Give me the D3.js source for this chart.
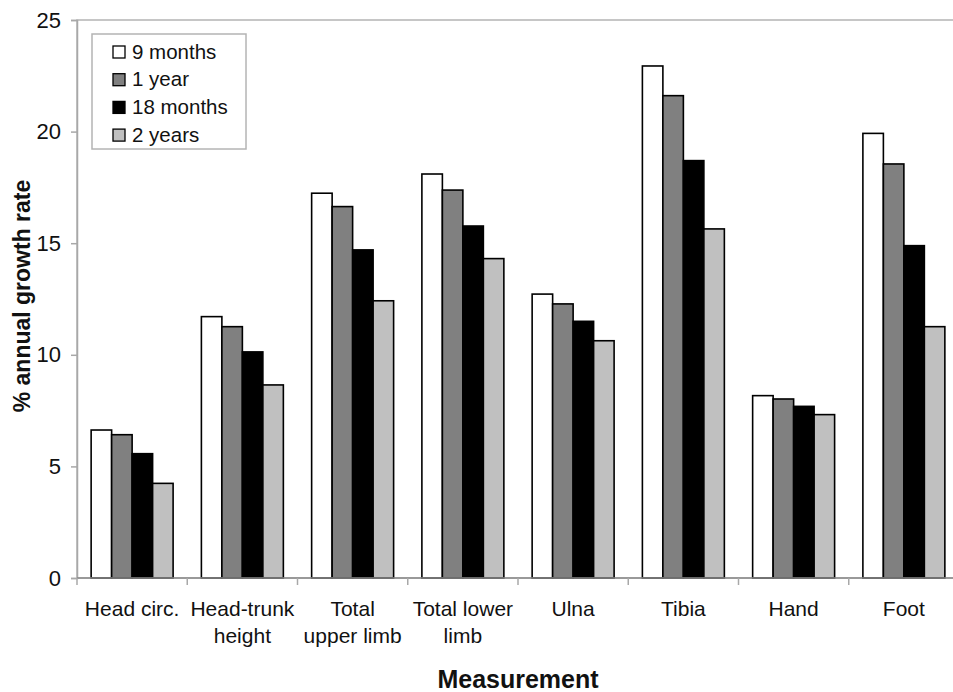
<!DOCTYPE html>
<html>
<head>
  <title>Annual growth rate by measurement</title>
  <script src="https://d3js.org/d3.v7.min.js"></script>
  <style>
    html, body { margin: 0; padding: 0; background: #fff; }
    svg { display: block; font-family: "Liberation Sans", Arial, sans-serif; }
  </style>
</head>
<body>
  <svg id="chart" width="953" height="692"></svg>

  <script>
    // Data
    const categories = ['Head circ.', 'Head-trunk height', 'Total upper limb', 'Total lower limb',
                        'Ulna', 'Tibia', 'Hand', 'Foot'];
    // category labels as they are wrapped in the picture
    const categoryLines = [['Head circ.'], ['Head-trunk', 'height'], ['Total', 'upper limb'],
                           ['Total lower', 'limb'], ['Ulna'], ['Tibia'], ['Hand'], ['Foot']];
    const seriesNames = ['9 months', '1 year', '18 months', '2 years'];
    const nineMonths  = [6.63, 11.71, 17.24, 18.10, 12.72, 22.94, 8.17, 19.92];
    const oneYear     = [6.42, 11.26, 16.64, 17.38, 12.28, 21.61, 8.02, 18.55];
    const eighteenMon = [5.57, 10.13, 14.70, 15.77, 11.50, 18.70, 7.69, 14.89];
    const twoYears    = [4.24,  8.65, 12.42, 14.31, 10.63, 15.64, 7.32, 11.26];
    const yTicks = [0, 5, 10, 15, 20, 25];

    const seriesValues = [nineMonths, oneYear, eighteenMon, twoYears];
    const colors = ['#ffffff', '#808080', '#000000', '#c0c0c0'];

    // plot area (right edge runs off the picture as in the original)
    const plotL = 77, plotR = 959, plotT = 20, plotB = 578;

    const svg = d3.select('#chart');

    const x0 = d3.scaleBand().domain(categories).range([plotL, plotR]);
    const x1 = d3.scaleBand().domain(seriesNames).range([0, x0.bandwidth()]).paddingOuter(0.69);
    const y = d3.scaleLinear().domain([0, 25]).range([plotB, plotT]);

    // plot frame
    svg.append('rect')
      .attr('x', plotL).attr('y', plotT)
      .attr('width', plotR - plotL).attr('height', plotB - plotT)
      .attr('fill', 'none').attr('stroke', '#b4b4b4').attr('stroke-width', 1.5);

    // y axis
    const yAxis = svg.append('g')
      .attr('transform', `translate(${plotL},0)`)
      .call(d3.axisLeft(y).tickValues(yTicks).tickSize(6).tickPadding(10));
    yAxis.select('.domain').attr('stroke', '#a8a8a8').attr('stroke-width', 1.5);
    yAxis.selectAll('.tick line').attr('stroke', '#a8a8a8').attr('stroke-width', 1.5);
    yAxis.selectAll('.tick text')
      .attr('font-size', 22).attr('fill', '#111')
      .style('font-family', '"Liberation Sans", Arial, sans-serif');

    // bars
    const groups = svg.append('g').selectAll('g')
      .data(categories)
      .join('g')
      .attr('transform', d => `translate(${x0(d)},0)`);

    groups.selectAll('rect')
      .data((c, ci) => seriesNames.map((s, si) => ({ s, si, v: seriesValues[si][ci] })))
      .join('rect')
      .attr('x', d => x1(d.s))
      .attr('y', d => y(d.v))
      .attr('width', x1.bandwidth())
      .attr('height', d => y(0) - y(d.v))
      .attr('fill', d => colors[d.si])
      .attr('stroke', '#000')
      .attr('stroke-width', 1.6);

    // x axis baseline and ticks between categories
    svg.append('line')
      .attr('x1', plotL).attr('x2', plotR).attr('y1', plotB).attr('y2', plotB)
      .attr('stroke', '#8a8a8a').attr('stroke-width', 1.5);
    svg.append('g').selectAll('line')
      .data(categories.concat(['end']))
      .join('line')
      .attr('x1', (d, i) => plotL + i * x0.step())
      .attr('x2', (d, i) => plotL + i * x0.step())
      .attr('y1', plotB).attr('y2', plotB + 7)
      .attr('stroke', '#a8a8a8').attr('stroke-width', 1.5);

    // category labels
    svg.append('g').selectAll('text')
      .data(categories)
      .join('text')
      .attr('x', d => x0(d) + x0.bandwidth() / 2)
      .attr('y', 616)
      .attr('text-anchor', 'middle')
      .attr('font-size', 21)
      .attr('fill', '#111')
      .selectAll('tspan')
      .data((d, i) => categoryLines[i])
      .join('tspan')
      .attr('x', function () { return this.parentNode.getAttribute('x'); })
      .attr('dy', (d, i) => i === 0 ? 0 : 27)
      .text(d => d);

    // axis titles
    svg.append('text')
      .attr('x', (plotL + plotR) / 2)
      .attr('y', 688)
      .attr('text-anchor', 'middle')
      .attr('font-size', 25)
      .attr('font-weight', 'bold')
      .attr('fill', '#111')
      .text('Measurement');

    svg.append('text')
      .attr('transform', 'translate(30,296) rotate(-90)')
      .attr('text-anchor', 'middle')
      .attr('font-size', 23)
      .attr('font-weight', 'bold')
      .attr('fill', '#111')
      .text('% annual growth rate');

    // legend
    const legend = svg.append('g').attr('transform', 'translate(92,34)');
    legend.append('rect')
      .attr('width', 154).attr('height', 115)
      .attr('fill', '#fff').attr('stroke', '#b4b4b4').attr('stroke-width', 1.5);
    const items = legend.selectAll('g.item')
      .data(seriesNames)
      .join('g')
      .attr('class', 'item')
      .attr('transform', (d, i) => `translate(21,${12 + i * 27.7})`);
    items.append('rect')
      .attr('width', 12).attr('height', 12)
      .attr('fill', (d, i) => colors[i])
      .attr('stroke', '#000').attr('stroke-width', 1.3);
    items.append('text')
      .attr('x', 19).attr('y', 12.5)
      .attr('font-size', 20.5)
      .attr('fill', '#111')
      .text(d => d);
  </script>
</body>
</html>
